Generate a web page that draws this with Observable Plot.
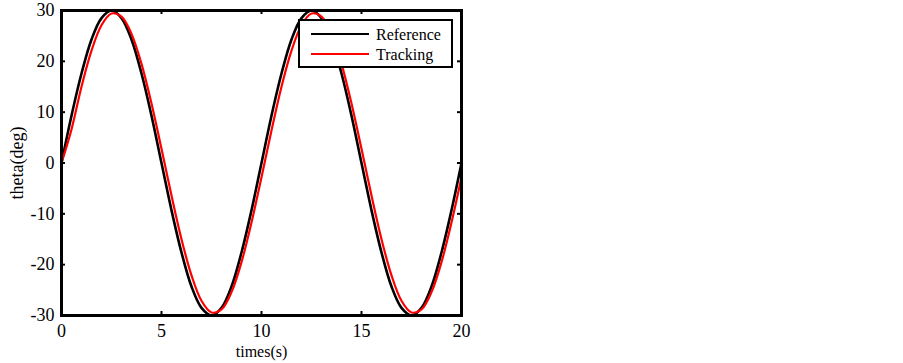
<!DOCTYPE html>
<html>
<head>
<meta charset="utf-8">
<script src="https://cdn.jsdelivr.net/npm/d3@7"></script>
<script src="https://cdn.jsdelivr.net/npm/@observablehq/plot@0.6"></script>
<style>
  html, body { margin: 0; padding: 0; background: #fff; }
  #chart { width: 903px; height: 363px; }
</style>
</head>
<body>
<div id="chart"></div>
<script>
const times = [0,0.5,1,1.5,2,2.5,3,3.5,4,4.5,5,5.5,6,6.5,7,7.5,8,8.5,9,9.5,10,
  10.5,11,11.5,12,12.5,13,13.5,14,14.5,15,15.5,16,16.5,17,17.5,18,18.5,19,19.5,20];
const referenceDeg = [0,9.3,17.6,24.3,28.5,30,28.5,24.3,17.6,9.3,0,-9.3,-17.6,-24.3,-28.5,-30,-28.5,-24.3,-17.6,-9.3,0,
  9.3,17.6,24.3,28.5,30,28.5,24.3,17.6,9.3,0,-9.3,-17.6,-24.3,-28.5,-30,-28.5,-24.3,-17.6,-9.3,0];
const trackingDeg = [0,6.6,15.0,22.1,27.1,29.4,28.8,25.4,19.5,11.7,2.8,-6.4,-15.0,-22.1,-27.1,-29.4,-28.8,-25.4,-19.5,-11.7,-2.8,
  6.4,15.0,22.1,27.1,29.4,28.8,25.4,19.5,11.7,2.8,-6.4,-15.0,-22.1,-27.1,-29.4,-28.8,-25.4,-19.5,-11.7,-2.8];
const xTicks = [0,5,10,15,20];
const yTicks = [-30,-20,-10,0,10,20,30];
const seriesNames = ["Reference", "Tracking"];
const seriesColors = ["#000000", "#ff0000"];

const refData = times.map((t, i) => ({t, v: referenceDeg[i]}));
const trkData = times.map((t, i) => ({t, v: trackingDeg[i]}));

const W = 903, H = 363;
const mL = 61, mR = 442, mT = 10, mB = 48;
const pw = W - mL - mR, ph = H - mT - mB;
const tick = 4;
const serif = "'Liberation Serif', 'Times New Roman', serif";

const plot = Plot.plot({
  width: W, height: H,
  marginLeft: mL, marginRight: mR, marginTop: mT, marginBottom: mB,
  style: {fontFamily: serif, fontSize: "17px", color: "#000", background: "#fff"},
  x: {domain: [0, 20], ticks: xTicks},
  y: {domain: [-30, 30], ticks: yTicks},
  marks: [
    Plot.line(refData, {x: "t", y: "v", stroke: seriesColors[0], strokeWidth: 2.6, curve: "catmull-rom"}),
    Plot.line(trkData, {x: "t", y: "v", stroke: seriesColors[1], strokeWidth: 2.2, curve: "catmull-rom"}),
    Plot.tickX(xTicks, {x: d => d, insetTop: ph - tick, stroke: "#000", strokeWidth: 2}),
    Plot.tickX(xTicks, {x: d => d, insetBottom: ph - tick, stroke: "#000", strokeWidth: 2}),
    Plot.tickY(yTicks, {y: d => d, insetRight: pw - tick, stroke: "#000", strokeWidth: 2}),
    Plot.tickY(yTicks, {y: d => d, insetLeft: pw - tick, stroke: "#000", strokeWidth: 2}),
    Plot.frame({stroke: "#000", strokeWidth: 3}),
    Plot.axisX({ticks: xTicks, tickSize: 0, tickPadding: 9, label: null, fontSize: 18, tickFormat: d => String(d)}),
    Plot.axisX({ticks: [], tickSize: 0, label: "times(s)", labelAnchor: "center", labelArrow: "none", labelOffset: 41, fontSize: 16}),
    Plot.axisY({ticks: yTicks, tickSize: 0, tickPadding: 7, label: null, fontSize: 18, tickFormat: d => String(d)}),
    Plot.axisY({ticks: [], tickSize: 0, label: "theta(deg)", labelAnchor: "center", labelArrow: "none", labelOffset: 51, fontSize: 18})
  ]
});
document.getElementById("chart").appendChild(plot);

// legend inside the plot area (top right)
const svg = d3.select(plot);
const lg = svg.append("g").attr("font-family", serif).attr("font-size", 16).attr("text-anchor", "start");
lg.append("rect").attr("x", 299).attr("y", mT + 10).attr("width", 153).attr("height", 47)
  .attr("fill", "#fff").attr("stroke", "#000").attr("stroke-width", 2);
seriesNames.forEach((name, i) => {
  const y = mT + 24 + i * 20;
  lg.append("line").attr("x1", 311).attr("x2", 369).attr("y1", y).attr("y2", y)
    .attr("stroke", seriesColors[i]).attr("stroke-width", 2);
  lg.append("text").attr("x", 376).attr("y", y).attr("dy", "0.35em").attr("fill", "#000").text(name);
});
</script>
</body>
</html>
